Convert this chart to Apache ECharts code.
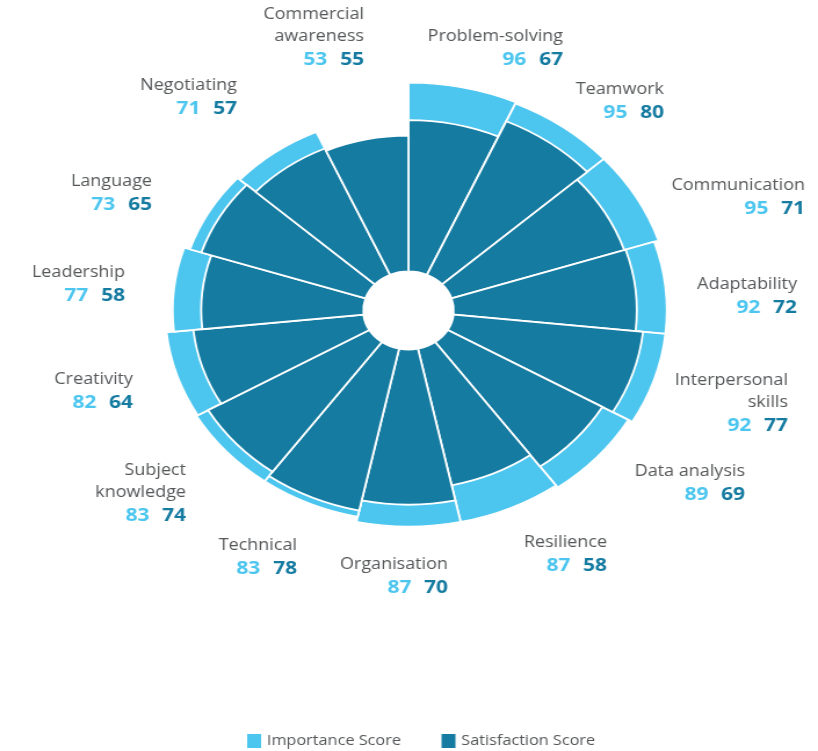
<!DOCTYPE html>
<html>
<head>
<meta charset="utf-8">
<script src="https://cdn.jsdelivr.net/npm/echarts@6/dist/echarts.min.js"></script>
<style>
  html, body { margin: 0; padding: 0; background: #ffffff; overflow: hidden; }
  #chart { width: 705px; height: 751px; transform: scaleX(1.1603); transform-origin: 0 0; }
</style>
</head>
<body>
<div id="chart"></div>
<script>
// ---- data ----
const categories = [
  'Problem-solving', 'Teamwork', 'Communication', 'Adaptability',
  'Interpersonal\nskills', 'Data analysis', 'Resilience', 'Organisation',
  'Technical', 'Subject\nknowledge', 'Creativity', 'Leadership',
  'Language', 'Negotiating', 'Commercial\nawareness'
];
const importanceScore = [96, 95, 95, 92, 92, 89, 87, 87, 83, 83, 82, 77, 73, 71, 53];
const satisfactionScore = [67, 80, 71, 72, 77, 69, 58, 70, 78, 74, 64, 58, 65, 57, 55];
const seriesNames = ['Importance Score', 'Satisfaction Score'];

// ---- layout (reference pixel coordinates: right edge x, first line centre y) ----
const SX = 1.1603;
const labelAnchors = [
  [563, 37], [664, 90], [805, 186], [797, 285], [788, 381],
  [745, 472], [607, 543], [448, 565], [297, 546], [186, 471],
  [133, 380], [125, 273], [152, 182], [237, 86], [364, 15]
];
const lightBlue = '#4cc6ef';
const darkBlue = '#157ba1';
const greyText = '#555759';

const chart = echarts.init(document.getElementById('chart'), null, { renderer: 'canvas' });

const labelGraphics = categories.map(function (name, i) {
  const nameLines = name.split('\n').map(function (l) { return '{n|' + l + '}'; }).join('\n');
  return {
    type: 'text',
    x: labelAnchors[i][0] / SX,
    y: labelAnchors[i][1] - 11,
    silent: true,
    style: {
      text: nameLines + '\n{a|' + importanceScore[i] + '}{b|' + satisfactionScore[i] + '}',
      align: 'right',
      verticalAlign: 'top',
      rich: {
        n: { fontFamily: 'Open Sans', fontSize: 15.5, fill: greyText, lineHeight: 22 },
        a: { fontFamily: 'Open Sans', fontSize: 18, fontWeight: 'bold', fill: lightBlue, lineHeight: 24 },
        b: { fontFamily: 'Open Sans', fontSize: 18, fontWeight: 'bold', fill: darkBlue, lineHeight: 24, padding: [0, 0, 0, 11] }
      }
    }
  };
});

chart.setOption({
  animation: false,
  backgroundColor: '#ffffff',
  polar: {
    center: [408.5 / SX, 310.5],
    radius: [39, 233]
  },
  angleAxis: {
    type: 'category',
    data: categories,
    startAngle: 90,
    clockwise: true,
    axisLine: { show: false },
    axisTick: { show: false },
    axisLabel: { show: false },
    splitLine: { show: false }
  },
  radiusAxis: {
    type: 'value',
    min: -50,
    max: 100,
    startValue: -50,
    axisLine: { show: false },
    axisTick: { show: false },
    axisLabel: { show: false },
    splitLine: { show: false }
  },
  legend: {
    left: 213,
    top: 734,
    padding: 0,
    itemWidth: 12,
    itemHeight: 14,
    itemGap: 35,
    icon: 'rect',
    itemStyle: { borderWidth: 0 },
    textStyle: { fontFamily: 'Open Sans', fontSize: 14, color: greyText },
    data: seriesNames
  },
  series: [
    {
      name: seriesNames[0],
      type: 'bar',
      coordinateSystem: 'polar',
      data: importanceScore,
      barCategoryGap: '0%',
      barGap: '-100%',
      itemStyle: { color: lightBlue, borderColor: '#ffffff', borderWidth: 1.8 },
      emphasis: { disabled: true }
    },
    {
      name: seriesNames[1],
      type: 'bar',
      coordinateSystem: 'polar',
      data: satisfactionScore,
      barCategoryGap: '0%',
      barGap: '-100%',
      itemStyle: { color: darkBlue, borderColor: '#ffffff', borderWidth: 1.8 },
      emphasis: { disabled: true }
    }
  ],
  graphic: labelGraphics
});
</script>
</body>
</html>
